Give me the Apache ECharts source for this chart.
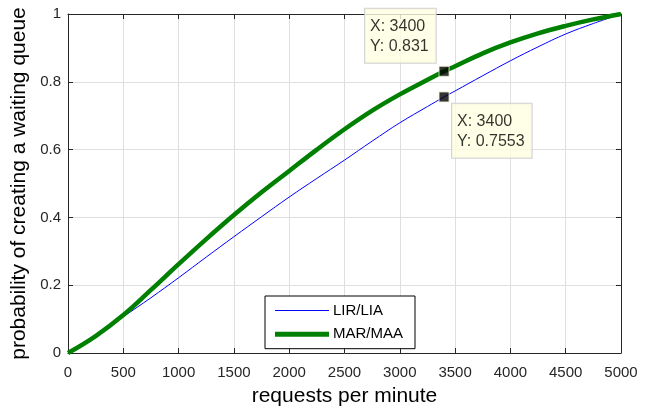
<!DOCTYPE html>
<html>
<head>
<meta charset="utf-8">
<script src="https://cdn.jsdelivr.net/npm/echarts@6/dist/echarts.min.js"></script>
<style>
html,body{margin:0;padding:0;background:#fff;}
#chart{width:649px;height:412px;}
</style>
</head>
<body>
<div id="chart"></div>
<script>
// ---- data ----
var xValues = [0, 250, 500, 750, 1000, 1250, 1500, 1750, 2000, 2250, 2500, 2750, 3000, 3250, 3400, 3500, 3750, 4000, 4250, 4500, 4750, 5000];
var lirLia  = [0, 0.05, 0.107, 0.163, 0.222, 0.283, 0.343, 0.402, 0.46, 0.515, 0.569, 0.625, 0.679, 0.727, 0.7553, 0.773, 0.818, 0.862, 0.903, 0.941, 0.972, 1];
var marMaa  = [0, 0.05, 0.112, 0.186, 0.262, 0.336, 0.407, 0.474, 0.537, 0.6, 0.66, 0.715, 0.763, 0.806, 0.831, 0.846, 0.884, 0.916, 0.943, 0.965, 0.984, 1];
var tipX = [3400, 3400];
var tipY = [0.831, 0.7553];
var seriesNames = ['LIR/LIA', 'MAR/MAA'];
var xTitle = 'requests per minute';
var yTitle = 'probability of creating a waiting queue';

function pairs(xs, ys){ return xs.map(function(x,i){ return [x, ys[i]]; }); }

var axisColor = '#262626';
var gridColor = '#dfdfdf';
var fontFam = '"Liberation Sans", Arial, Helvetica, sans-serif';

var chart = echarts.init(document.getElementById('chart'), null, {renderer:'canvas'});
var tipBox = {
  show: true,
  color: '#000',
  fontFamily: fontFam,
  fontSize: 16,
  lineHeight: 20,
  backgroundColor: '#ffffe1',
  borderColor: '#c8c8c8',
  borderWidth: 1,
  padding: [8, 7, 6, 5],
  align: 'left',
  verticalAlign: 'top',
  formatter: function(p){ return 'X: ' + p.value[0] + '\nY: ' + p.value[1]; }
};
function plain(v){ return String(v); }

chart.setOption({
  animation: false,
  backgroundColor: '#fff',
  grid: {left: 68, right: 28, top: 14, bottom: 59},
  legend: {
    data: [
      {name: seriesNames[0], icon: 'path://M0,0H54V1H0Z'},
      {name: seriesNames[1], icon: 'path://M0,0H54V5H0Z'}
    ],
    orient: 'vertical',
    left: 265, top: 296,
    backgroundColor: '#fff',
    borderColor: '#000',
    borderWidth: 1,
    borderRadius: 0,
    padding: [7, 12, 7, 10],
    itemWidth: 54,
    itemHeight: 14,
    itemGap: 8.7,
    symbolKeepAspect: true,
    itemStyle: {borderWidth: 0},
    textStyle: {fontFamily: fontFam, fontSize: 15, color: '#000', padding: [0,0,0,-1]}
  },
  xAxis: [{
    type: 'value', min: 0, max: 5000, interval: 500,
    name: xTitle, nameLocation: 'middle', nameGap: 33,
    nameTextStyle: {fontFamily: fontFam, fontSize: 21, color: '#000'},
    axisLine: {show: true, onZero: false, lineStyle: {color: axisColor, width: 1}},
    axisTick: {show: true, inside: true, length: 5, lineStyle: {color: axisColor}},
    axisLabel: {color: axisColor, fontFamily: fontFam, fontSize: 15, margin: 12, formatter: plain},
    splitLine: {show: true, lineStyle: {color: gridColor, width: 1}}
  }, {
    type: 'value', min: 0, max: 5000, interval: 500, position: 'top',
    axisLine: {show: true, onZero: false, lineStyle: {color: axisColor, width: 1}},
    axisTick: {show: true, inside: true, length: 5, lineStyle: {color: axisColor}},
    axisLabel: {show: false},
    splitLine: {show: false}
  }],
  yAxis: [{
    type: 'value', min: 0, max: 1, interval: 0.2,
    name: yTitle, nameLocation: 'middle', nameGap: 35,
    nameTextStyle: {fontFamily: fontFam, fontSize: 21, color: '#000'},
    axisLine: {show: true, onZero: false, lineStyle: {color: axisColor, width: 1}},
    axisTick: {show: true, inside: true, length: 5, lineStyle: {color: axisColor}},
    axisLabel: {color: axisColor, fontFamily: fontFam, fontSize: 15, margin: 7, formatter: plain},
    splitLine: {show: true, lineStyle: {color: gridColor, width: 1}}
  }, {
    type: 'value', min: 0, max: 1, interval: 0.2, position: 'right',
    axisLine: {show: true, onZero: false, lineStyle: {color: axisColor, width: 1}},
    axisTick: {show: true, inside: true, length: 5, lineStyle: {color: axisColor}},
    axisLabel: {show: false},
    splitLine: {show: false}
  }],
  series: [{
    name: seriesNames[0], type: 'line', xAxisIndex: 0, yAxisIndex: 0,
    data: pairs(xValues, lirLia),
    smooth: 0.4,
    symbol: 'none', showSymbol: false,
    lineStyle: {color: '#0000ff', width: 1},
    itemStyle: {color: '#0000ff'}
  }, {
    name: seriesNames[1], type: 'line', xAxisIndex: 0, yAxisIndex: 0,
    data: pairs(xValues, marMaa),
    smooth: 0.4,
    symbol: 'none', showSymbol: false,
    lineStyle: {color: '#008000', width: 4.5},
    itemStyle: {color: '#008000'}
  }, {
    name: 'tip1', type: 'scatter', xAxisIndex: 0, yAxisIndex: 0,
    data: [[tipX[0], tipY[0]]],
    symbol: 'rect', symbolSize: 10,
    itemStyle: {color: '#000', borderColor: '#f0f0d0', borderWidth: 1},
    label: Object.assign({}, tipBox, {position: [-73.5, -57]}),
    z: 5
  }, {
    name: 'tip2', type: 'scatter', xAxisIndex: 0, yAxisIndex: 0,
    data: [[tipX[1], tipY[1]]],
    symbol: 'rect', symbolSize: 10,
    itemStyle: {color: '#000', borderColor: '#f0f0d0', borderWidth: 1},
    label: Object.assign({}, tipBox, {position: [13.5, 12.3]}),
    z: 5
  }]
});
</script>
</body>
</html>
